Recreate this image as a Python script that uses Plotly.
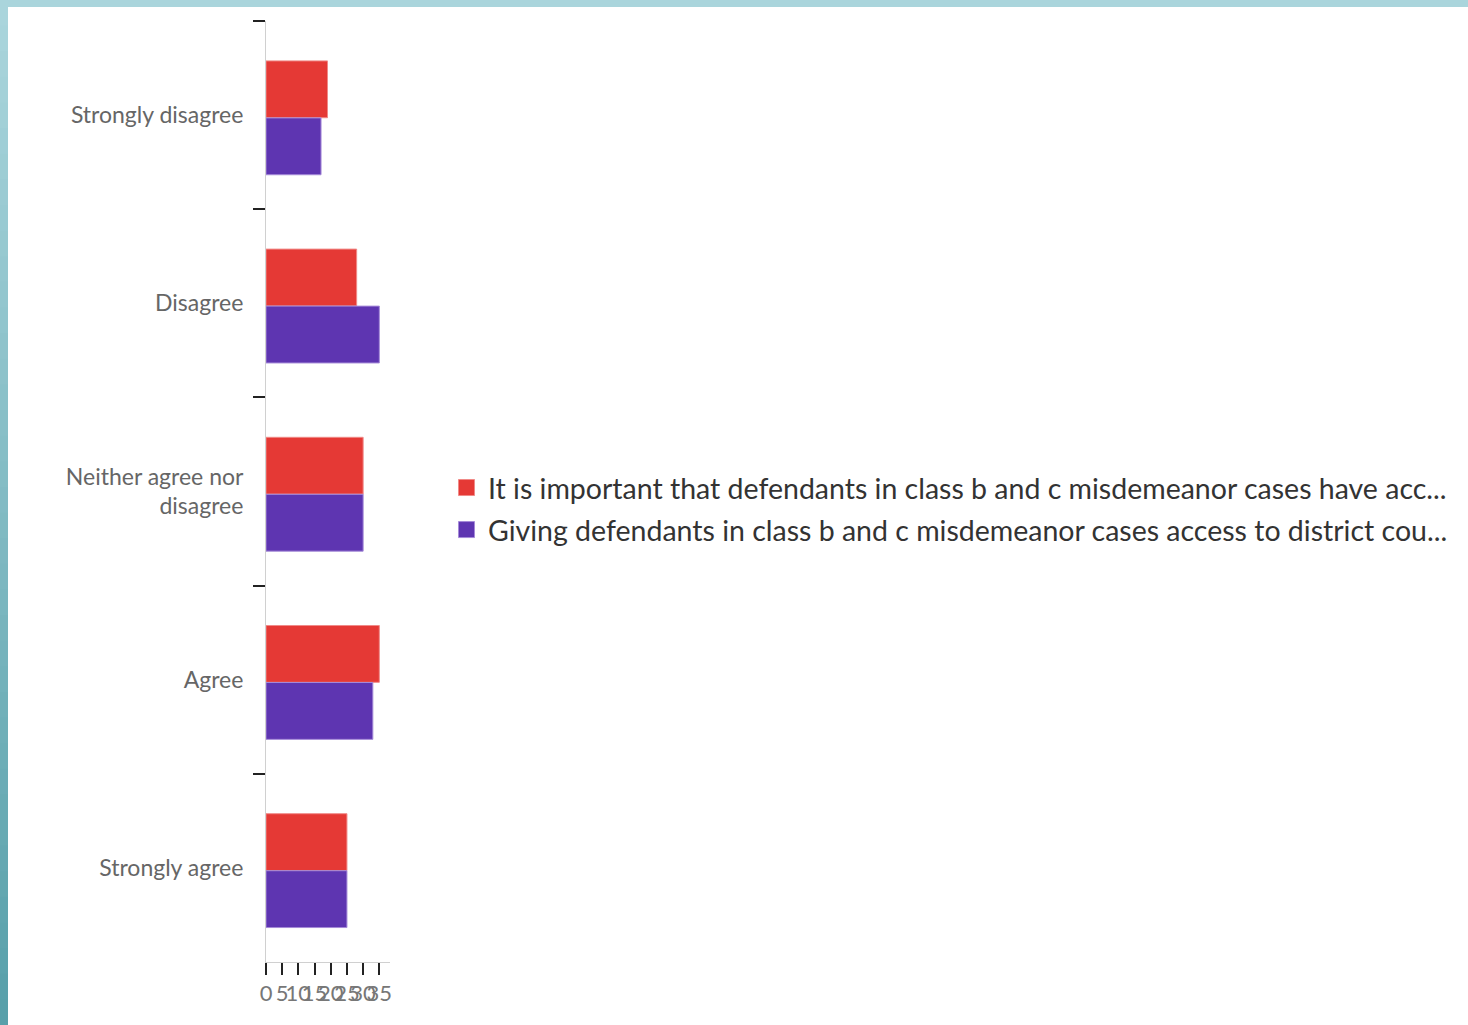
import plotly.graph_objects as go

categories = ["Strongly disagree", "Disagree", "Neither agree nor<br>disagree", "Agree", "Strongly agree"]
series_names = [
    "It is important that defendants in class b and c misdemeanor cases have acc...",
    "Giving defendants in class b and c misdemeanor cases access to district cou...",
]
series_a = [19, 28, 30, 35, 25]
series_b = [17, 35, 30, 33, 25]
x_tickvals = [0, 5, 10, 15, 20, 25, 30, 35]
colors = ["#e53935", "#5e35b1"]
line_colors = ["#f08a88", "#a58ad8"]
bar_offsets = [-0.288, 0.015]
bar_width = 0.302

W, H = 1468, 1025
L, R, T, B = 266, 390, 21, 962

fig = go.Figure()
for i, (name, vals, c, lc, off) in enumerate(zip(series_names, [series_a, series_b], colors, line_colors, bar_offsets)):
    fig.add_trace(go.Bar(
        y=categories, x=vals, name=name, orientation="h", showlegend=False,
        offset=off, width=bar_width,
        marker=dict(color=c, line=dict(color=lc, width=1)),
    ))
for i, (name, c, lc) in enumerate(zip(series_names, colors, line_colors)):
    fig.add_trace(go.Scatter(
        x=[None], y=[None], mode="markers", name=name, legendgroup="g%d" % i,
        marker=dict(symbol="square", size=16, color=c, line=dict(color=lc, width=1)),
    ))

def px(xp):
    return (xp - L) / (R - L)

def py(yp):
    return (B - yp) / (B - T)

shapes = []
shapes.append(dict(type="rect", xref="paper", yref="paper", x0=px(0), x1=px(W), y0=py(7), y1=py(0),
                   fillcolor="rgb(170,213,220)", line=dict(width=0), layer="above"))
n = 40
c0 = (170, 213, 220)
c1 = (88, 160, 170)
for i in range(n):
    t = i / (n - 1)
    col = tuple(int(round(c0[k] + (c1[k] - c0[k]) * t)) for k in range(3))
    y0p = H * i / n
    y1p = H * (i + 1) / n + 1
    shapes.append(dict(type="rect", xref="paper", yref="paper", x0=px(0), x1=px(8),
                       y0=py(min(y1p, H)), y1=py(y0p),
                       fillcolor="rgb(%d,%d,%d)" % col, line=dict(width=0), layer="above"))

fig.update_layout(
    width=W, height=H,
    margin=dict(l=L, r=W - R, t=T, b=H - B, pad=0),
    paper_bgcolor="white", plot_bgcolor="white",
    barmode="overlay",
    font=dict(family="Lato, sans-serif"),
    showlegend=True,
    legend=dict(x=px(445), xanchor="left", y=py(509), yanchor="middle",
                font=dict(size=28.5, color="#333"), traceorder="grouped",
                itemwidth=33, tracegroupgap=2),
    shapes=shapes,
)
fig.update_yaxes(
    autorange="reversed", showline=True, linecolor="#d0d0d0", linewidth=1,
    ticks="outside", tickson="boundaries", ticklen=12, tickcolor="#222", tickwidth=2,
    tickfont=dict(size=23, color="#666"), showgrid=False, zeroline=False,
    ticklabelstandoff=17,
)
fig.update_xaxes(
    range=[0, 38.3], tickvals=x_tickvals, tickangle=0, showline=True, linecolor="#d0d0d0", linewidth=1,
    ticks="outside", ticklen=12, tickcolor="#222", tickwidth=2,
    tickfont=dict(size=22, color="#777"), showgrid=False, zeroline=False,
)

fig.write_html("out.html")
